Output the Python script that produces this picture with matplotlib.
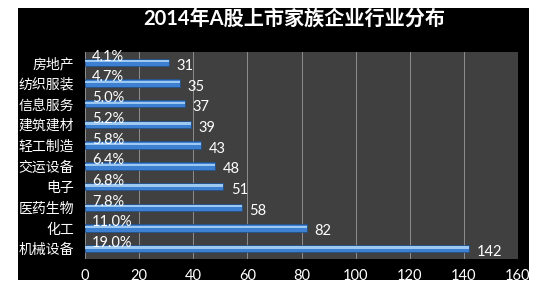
import matplotlib
matplotlib.use("Agg")
import matplotlib.pyplot as plt
from matplotlib.patches import Rectangle

plt.rcParams['font.family'] = ['Lato', 'Noto Sans CJK SC', 'DejaVu Sans']

categories = ['房地产', '纺织服装', '信息服务', '建筑建材', '轻工制造',
              '交运设备', '电子', '医药生物', '化工', '机械设备']
counts = [31, 35, 37, 39, 43, 48, 51, 58, 82, 142]
shares = ['4.1%', '4.7%', '5.0%', '5.2%', '5.8%', '6.4%', '6.8%', '7.8%', '11.0%', '19.0%']
xticks = [0, 20, 40, 60, 80, 100, 120, 140, 160]
title = '2014年A股上市家族企业行业分布'

fig = plt.figure(figsize=(5.5, 3.0), dpi=100)
fig.patch.set_facecolor('white')
fig.patches.append(Rectangle((18/550, 1 - 280/300), 511/550, 272/300,
                             transform=fig.transFigure, facecolor='black',
                             edgecolor='none', zorder=-5))

ax = fig.add_axes([85/550, 1 - 259/300, 433/550, 207/300])
ax.set_zorder(2)
ax.set_facecolor('#404040')
for s in ax.spines.values():
    s.set_visible(False)

ypos = list(range(len(categories)))
ax.barh(ypos, counts, height=0.36, color='#3d7fd0', edgecolor='#1d4f8a',
        linewidth=0.5, zorder=3)
ax.barh([y - 0.05 for y in ypos], counts, height=0.11, color='#9cc8f2',
        edgecolor='none', zorder=4)

for y, c, s in zip(ypos, counts, shares):
    ax.annotate(str(c), (c, y), xytext=(5.5, -2.5), textcoords='offset points',
                ha='left', va='center', color='white', fontsize=10.5, zorder=5)
    ax.annotate(s, (0, y), xytext=(5, 4.0), textcoords='offset points',
                ha='left', va='center', color='white', fontsize=10.5, zorder=5)

ax.set_xlim(0, 160)
ax.set_ylim(len(categories) - 0.5, -0.5)
ax.set_xticks(xticks)
ax.set_xticklabels([str(t) for t in xticks])
ax.set_yticks(ypos)
ax.set_yticklabels(categories)
ax.tick_params(axis='x', length=0, pad=7, colors='white', labelsize=10.5)
ax.tick_params(axis='y', length=0, pad=8, colors='white', labelsize=10)
ax.grid(axis='x', color='#9a9a9a', linewidth=0.6, zorder=1)
ax.set_axisbelow(True)

fig.text(294/550, 1 - 19/300, title, ha='center', va='center',
         color='white', fontsize=14.5, fontweight='bold')

fig.savefig('out.png', dpi=100, facecolor=fig.get_facecolor())
